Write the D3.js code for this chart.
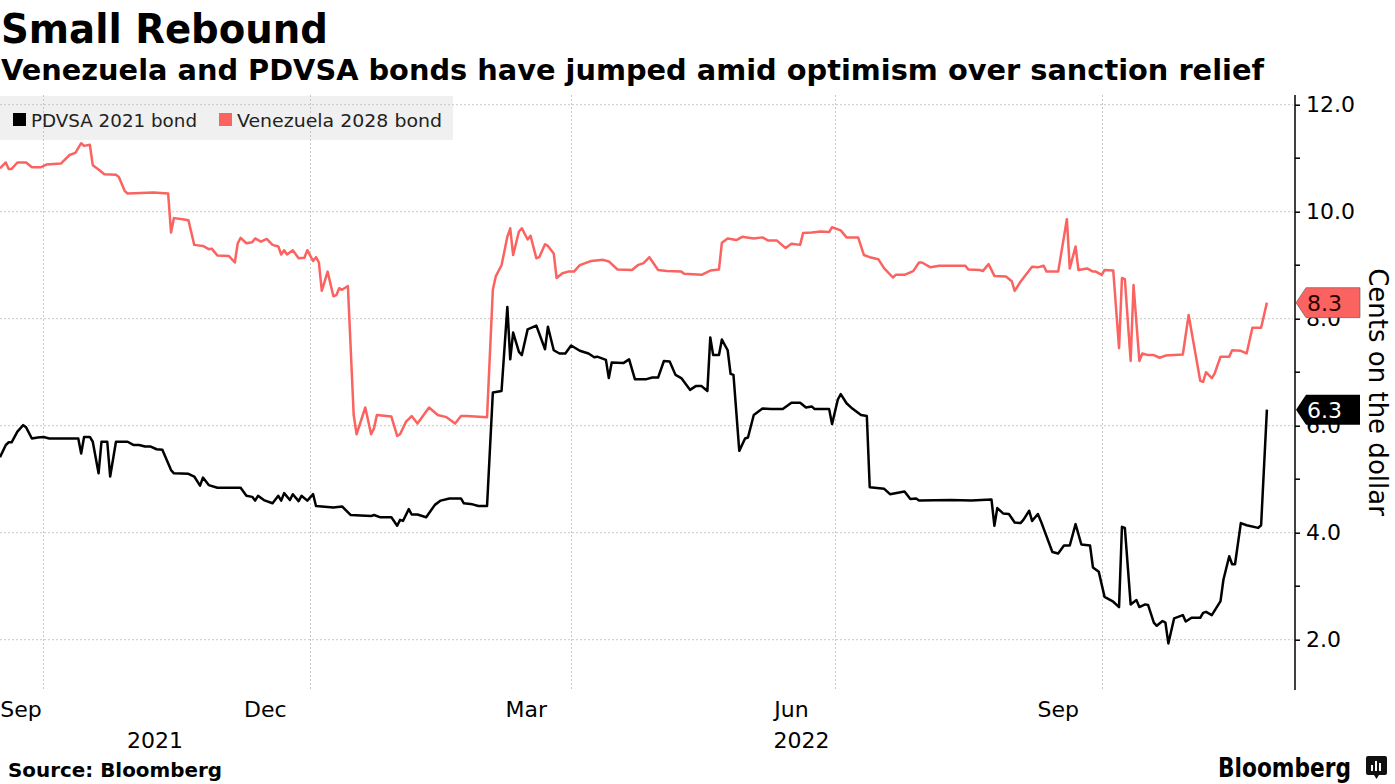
<!DOCTYPE html>
<html>
<head>
<meta charset="utf-8">
<script src="https://cdn.jsdelivr.net/npm/d3@7"></script>
<style>
  html, body { margin: 0; padding: 0; background: #fff; }
  svg { display: block; }
  text { font-family: "DejaVu Sans", sans-serif; }
</style>
</head>
<body>
<svg id="chart" width="1395" height="784"></svg>
<script>
// ---------- DATA ----------
const seriesNames = ["PDVSA 2021 bond", "Venezuela 2028 bond"];
const yTickValues = [2, 4, 6, 8, 10, 12];
const yMinorTickValues = [3, 5, 7, 9, 11];
const monthLabels = ["Sep", "Dec", "Mar", "Jun", "Sep"];
const monthLabelDates = ["2021-09-01", "2021-12-01", "2022-03-01", "2022-06-01", "2022-09-01"];
const gridDates = ["2021-10-01", "2022-01-01", "2022-04-01", "2022-07-01", "2022-10-01"];
const yearLabels = ["2021", "2022"];

const pdvsa2021 = [
["2021-09-16",5.41],["2021-09-18",5.64],["2021-09-19",5.69],["2021-09-20",5.69],["2021-09-22",5.89],["2021-09-24",6.01],
["2021-09-25",5.97],["2021-09-27",5.76],["2021-09-29",5.78],["2021-10-01",5.79],["2021-10-03",5.76],["2021-10-13",5.76],
["2021-10-14",5.48],["2021-10-15",5.79],["2021-10-17",5.79],["2021-10-18",5.70],["2021-10-20",5.11],["2021-10-21",5.70],
["2021-10-23",5.70],["2021-10-24",5.05],["2021-10-26",5.70],["2021-10-30",5.70],["2021-11-01",5.64],["2021-11-03",5.64],
["2021-11-05",5.61],["2021-11-07",5.61],["2021-11-09",5.56],["2021-11-11",5.55],["2021-11-14",5.17],["2021-11-15",5.11],
["2021-11-20",5.10],["2021-11-22",5.05],["2021-11-24",4.88],["2021-11-25",5.03],["2021-11-27",4.89],["2021-11-30",4.84],
["2021-12-08",4.84],["2021-12-10",4.69],["2021-12-12",4.67],["2021-12-13",4.60],["2021-12-14",4.69],["2021-12-16",4.61],
["2021-12-19",4.55],["2021-12-21",4.69],["2021-12-22",4.60],["2021-12-23",4.74],["2021-12-25",4.61],["2021-12-26",4.72],
["2021-12-28",4.59],["2021-12-29",4.69],["2021-12-31",4.60],["2022-01-02",4.72],["2022-01-03",4.50],["2022-01-09",4.47],
["2022-01-12",4.49],["2022-01-15",4.33],["2022-01-22",4.31],["2022-01-23",4.33],["2022-01-25",4.29],["2022-01-29",4.29],
["2022-01-31",4.13],["2022-02-01",4.24],["2022-02-02",4.22],["2022-02-04",4.44],["2022-02-05",4.34],["2022-02-07",4.34],
["2022-02-10",4.29],["2022-02-13",4.52],["2022-02-15",4.60],["2022-02-18",4.64],["2022-02-22",4.64],["2022-02-23",4.55],
["2022-02-26",4.53],["2022-02-28",4.50],["2022-03-03",4.50],["2022-03-05",6.62],["2022-03-08",6.65],["2022-03-10",8.22],
["2022-03-11",7.24],["2022-03-12",7.74],["2022-03-14",7.38],["2022-03-15",7.32],["2022-03-17",7.80],["2022-03-20",7.87],
["2022-03-23",7.43],["2022-03-24",7.85],["2022-03-26",7.41],["2022-03-28",7.35],["2022-03-30",7.35],["2022-04-01",7.50],
["2022-04-04",7.40],["2022-04-07",7.35],["2022-04-09",7.28],["2022-04-10",7.29],["2022-04-13",7.23],["2022-04-14",6.89],
["2022-04-15",7.18],["2022-04-19",7.17],["2022-04-21",7.24],["2022-04-23",6.87],["2022-04-27",6.87],["2022-04-29",6.90],
["2022-05-01",6.90],["2022-05-03",7.21],["2022-05-05",7.20],["2022-05-07",6.95],["2022-05-09",6.89],["2022-05-12",6.67],
["2022-05-14",6.74],["2022-05-16",6.74],["2022-05-18",6.65],["2022-05-19",7.65],["2022-05-20",7.32],["2022-05-22",7.32],
["2022-05-23",7.61],["2022-05-25",7.41],["2022-05-26",6.97],["2022-05-27",6.95],["2022-05-29",5.53],["2022-05-31",5.76],
["2022-06-01",5.78],["2022-06-03",6.20],["2022-06-06",6.32],["2022-06-09",6.31],["2022-06-13",6.31],["2022-06-16",6.43],
["2022-06-19",6.43],["2022-06-21",6.34],["2022-06-23",6.36],["2022-06-24",6.31],["2022-06-29",6.31],["2022-06-30",6.03],
["2022-07-02",6.49],["2022-07-03",6.59],["2022-07-05",6.42],["2022-07-07",6.32],["2022-07-10",6.20],["2022-07-12",6.18],
["2022-07-13",4.85],["2022-07-18",4.82],["2022-07-20",4.72],["2022-07-25",4.77],["2022-07-27",4.63],["2022-07-29",4.64],
["2022-07-30",4.60],["2022-08-10",4.61],["2022-08-17",4.60],["2022-08-24",4.62],["2022-08-25",4.13],["2022-08-26",4.46],
["2022-08-28",4.36],["2022-08-30",4.35],["2022-09-01",4.19],["2022-09-03",4.18],["2022-09-04",4.24],["2022-09-06",4.41],
["2022-09-07",4.22],["2022-09-09",4.35],["2022-09-10",4.22],["2022-09-14",3.64],["2022-09-16",3.61],["2022-09-18",3.76],
["2022-09-20",3.76],["2022-09-22",4.16],["2022-09-24",3.78],["2022-09-27",3.76],["2022-09-28",3.35],["2022-09-30",3.27],
["2022-10-02",2.80],["2022-10-05",2.71],["2022-10-07",2.61],["2022-10-08",4.11],["2022-10-09",4.09],["2022-10-11",2.66],
["2022-10-13",2.74],["2022-10-14",2.61],["2022-10-16",2.66],["2022-10-17",2.65],["2022-10-19",2.32],["2022-10-20",2.26],
["2022-10-22",2.35],["2022-10-23",2.32],["2022-10-24",1.93],["2022-10-26",2.40],["2022-10-29",2.46],["2022-10-30",2.34],
["2022-11-01",2.41],["2022-11-04",2.41],["2022-11-05",2.50],["2022-11-06",2.52],["2022-11-08",2.46],["2022-11-11",2.72],
["2022-11-12",3.12],["2022-11-14",3.56],["2022-11-15",3.41],["2022-11-16",3.41],["2022-11-18",4.18],["2022-11-20",4.14],
["2022-11-24",4.09],["2022-11-25",4.14],["2022-11-27",6.3]
];

const venezuela2028 = [
["2021-09-16",10.81],["2021-09-18",10.92],["2021-09-19",10.80],["2021-09-20",10.80],["2021-09-22",10.92],["2021-09-25",10.92],
["2021-09-27",10.83],["2021-09-30",10.83],["2021-10-02",10.88],["2021-10-07",10.90],["2021-10-10",11.06],["2021-10-12",11.10],
["2021-10-14",11.28],["2021-10-15",11.23],["2021-10-17",11.25],["2021-10-18",10.87],["2021-10-20",10.79],["2021-10-22",10.70],
["2021-10-26",10.69],["2021-10-27",10.65],["2021-10-29",10.39],["2021-10-30",10.34],["2021-11-08",10.36],["2021-11-13",10.34],
["2021-11-14",9.61],["2021-11-15",9.88],["2021-11-18",9.86],["2021-11-20",9.84],["2021-11-22",9.38],["2021-11-25",9.36],
["2021-11-27",9.30],["2021-11-28",9.31],["2021-11-30",9.18],["2021-12-04",9.17],["2021-12-06",9.05],["2021-12-07",9.41],
["2021-12-08",9.51],["2021-12-10",9.41],["2021-12-12",9.43],["2021-12-13",9.50],["2021-12-15",9.44],["2021-12-17",9.49],
["2021-12-19",9.38],["2021-12-21",9.35],["2021-12-22",9.20],["2021-12-23",9.28],["2021-12-24",9.20],["2021-12-26",9.28],
["2021-12-28",9.13],["2021-12-30",9.14],["2021-12-31",9.28],["2022-01-02",9.08],["2022-01-03",9.15],["2022-01-04",9.05],
["2022-01-05",8.52],["2022-01-07",8.88],["2022-01-09",8.42],["2022-01-10",8.44],["2022-01-11",8.57],["2022-01-12",8.54],
["2022-01-14",8.61],["2022-01-16",6.20],["2022-01-17",5.84],["2022-01-20",6.34],["2022-01-22",5.84],["2022-01-23",5.95],
["2022-01-24",6.20],["2022-01-29",6.17],["2022-01-31",5.81],["2022-02-01",5.84],["2022-02-03",6.07],["2022-02-05",6.18],
["2022-02-07",6.04],["2022-02-11",6.34],["2022-02-14",6.20],["2022-02-17",6.16],["2022-02-20",6.04],["2022-02-22",6.18],
["2022-02-24",6.18],["2022-03-03",6.16],["2022-03-05",8.54],["2022-03-06",8.79],["2022-03-08",9.00],["2022-03-10",9.53],
["2022-03-11",9.69],["2022-03-12",9.19],["2022-03-14",9.63],["2022-03-15",9.69],["2022-03-17",9.48],["2022-03-18",9.55],
["2022-03-20",9.13],["2022-03-21",9.15],["2022-03-23",9.39],["2022-03-24",9.36],["2022-03-26",9.22],["2022-03-27",8.76],
["2022-03-29",8.85],["2022-03-31",8.88],["2022-04-02",8.88],["2022-04-04",9.00],["2022-04-08",9.08],["2022-04-12",9.10],
["2022-04-14",9.07],["2022-04-17",8.92],["2022-04-22",8.91],["2022-04-24",9.00],["2022-04-26",9.04],["2022-04-28",9.15],
["2022-05-01",8.91],["2022-05-04",8.89],["2022-05-09",8.88],["2022-05-10",8.84],["2022-05-16",8.82],["2022-05-19",8.90],
["2022-05-22",8.92],["2022-05-23",9.42],["2022-05-25",9.50],["2022-05-28",9.47],["2022-05-30",9.53],["2022-06-03",9.50],
["2022-06-06",9.52],["2022-06-08",9.46],["2022-06-11",9.46],["2022-06-14",9.32],["2022-06-16",9.40],["2022-06-19",9.38],
["2022-06-20",9.60],["2022-06-23",9.61],["2022-06-26",9.63],["2022-06-29",9.62],["2022-06-30",9.71],["2022-07-03",9.65],
["2022-07-05",9.52],["2022-07-09",9.52],["2022-07-11",9.19],["2022-07-13",9.15],["2022-07-16",9.11],["2022-07-18",8.94],
["2022-07-21",8.77],["2022-07-22",8.82],["2022-07-25",8.82],["2022-07-28",8.89],["2022-07-30",9.05],["2022-07-31",9.05],
["2022-08-03",8.96],["2022-08-06",8.99],["2022-08-15",8.99],["2022-08-16",8.92],["2022-08-20",8.91],["2022-08-21",8.89],
["2022-08-23",9.02],["2022-08-25",8.80],["2022-08-29",8.79],["2022-08-31",8.70],["2022-09-01",8.52],["2022-09-03",8.69],
["2022-09-07",8.97],["2022-09-09",8.96],["2022-09-11",8.99],["2022-09-12",8.88],["2022-09-16",8.88],["2022-09-19",9.86],
["2022-09-20",8.94],["2022-09-22",9.35],["2022-09-23",8.91],["2022-09-26",8.94],["2022-09-28",8.88],["2022-09-29",8.88],
["2022-10-01",8.82],["2022-10-02",8.91],["2022-10-05",8.90],["2022-10-07",7.45],["2022-10-08",8.76],["2022-10-09",8.74],
["2022-10-11",7.21],["2022-10-12",8.63],["2022-10-14",7.21],["2022-10-15",7.35],["2022-10-17",7.32],["2022-10-19",7.32],
["2022-10-21",7.27],["2022-10-23",7.31],["2022-10-29",7.33],["2022-10-31",8.07],["2022-11-04",6.84],["2022-11-05",6.82],
["2022-11-06",7.00],["2022-11-08",6.89],["2022-11-09",6.98],["2022-11-11",7.29],["2022-11-14",7.29],["2022-11-15",7.41],
["2022-11-18",7.40],["2022-11-20",7.35],["2022-11-22",7.83],["2022-11-25",7.83],["2022-11-27",8.3]
];

// ---------- SETUP ----------
const parse = d3.timeParse("%Y-%m-%d");
const colors = { pdvsa: "#000000", ven: "#fa6360" };
const svg = d3.select("#chart");

const plotLeft = 0, plotRight = 1293, plotTop = 95, plotBottom = 690, axisX = 1295;

const x = d3.scaleTime()
  .domain([parse("2021-09-16"), parse("2022-12-06")])
  .range([plotLeft, plotRight]);
const y = d3.scaleLinear().domain([2, 12]).range([639.7, 104.7]);

// Title & subtitle
svg.append("text").attr("x", 1).attr("y", 43)
  .attr("font-size", 41).attr("font-weight", "bold")
  .attr("textLength", 327).attr("lengthAdjust", "spacingAndGlyphs")
  .text("Small Rebound");
svg.append("text").attr("x", 1).attr("y", 80)
  .attr("font-size", 29).attr("font-weight", "bold")
  .attr("textLength", 1263).attr("lengthAdjust", "spacingAndGlyphs")
  .text("Venezuela and PDVSA bonds have jumped amid optimism over sanction relief");

// Legend box (under gridlines)
svg.append("rect").attr("x", 0).attr("y", 96).attr("width", 453).attr("height", 44)
  .attr("fill", "#f0f0f0");

// Horizontal gridlines
svg.append("g").selectAll("line").data(yTickValues).join("line")
  .attr("x1", plotLeft).attr("x2", plotRight)
  .attr("y1", d => y(d)).attr("y2", d => y(d))
  .attr("stroke", "#c8c8c8").attr("stroke-width", 1).attr("stroke-dasharray", "2,2");

// Vertical gridlines
svg.append("g").selectAll("line").data(gridDates.map(parse)).join("line")
  .attr("x1", d => Math.round(x(d)) + 0.5).attr("x2", d => Math.round(x(d)) + 0.5)
  .attr("y1", plotTop).attr("y2", plotBottom)
  .attr("stroke", "#c8c8c8").attr("stroke-width", 1).attr("stroke-dasharray", "2,2");

// Legend items
const legend = svg.append("g");
legend.append("rect").attr("x", 13).attr("y", 113).attr("width", 13).attr("height", 13).attr("fill", colors.pdvsa);
legend.append("text").attr("x", 31).attr("y", 127).attr("font-size", 18).attr("fill", "#222")
  .attr("textLength", 166).attr("lengthAdjust", "spacingAndGlyphs").text(seriesNames[0]);
legend.append("rect").attr("x", 219).attr("y", 113).attr("width", 13).attr("height", 13).attr("fill", colors.ven);
legend.append("text").attr("x", 237).attr("y", 127).attr("font-size", 18).attr("fill", "#222")
  .attr("textLength", 205).attr("lengthAdjust", "spacingAndGlyphs").text(seriesNames[1]);

// Lines
const line = d3.line().x(d => x(parse(d[0]))).y(d => y(d[1])).curve(d3.curveLinear);
svg.append("path").datum(venezuela2028).attr("d", line)
  .attr("fill", "none").attr("stroke", colors.ven).attr("stroke-width", 2.5).attr("stroke-linejoin", "round");
svg.append("path").datum(pdvsa2021).attr("d", line)
  .attr("fill", "none").attr("stroke", colors.pdvsa).attr("stroke-width", 2.5).attr("stroke-linejoin", "round");

// Right axis
const yAxis = d3.axisRight(y).tickValues(yTickValues).tickSize(5).tickPadding(6)
  .tickFormat(d3.format(".1f"));
const axG = svg.append("g").attr("transform", `translate(${axisX},0)`).call(yAxis);
axG.select(".domain").remove();
axG.selectAll("text").attr("font-size", 22).attr("font-family", "DejaVu Sans").attr("fill", "#000");
axG.selectAll("line").attr("stroke", "#000").attr("stroke-width", 1.5);
svg.append("line").attr("x1", axisX).attr("x2", axisX).attr("y1", plotTop).attr("y2", plotBottom)
  .attr("stroke", "#000").attr("stroke-width", 1.5);
svg.append("g").selectAll("line").data(yMinorTickValues).join("line")
  .attr("x1", axisX).attr("x2", axisX + 5).attr("y1", d => y(d)).attr("y2", d => y(d))
  .attr("stroke", "#000").attr("stroke-width", 1.5);

// Axis title
svg.append("text")
  .attr("transform", `translate(1369,392) rotate(90)`)
  .attr("text-anchor", "middle").attr("font-size", 26)
  .text("Cents on the dollar");

// End value labels
function endLabel(series, fill, textFill) {
  const last = series[series.length - 1];
  const yc = y(last[1]);
  const g = svg.append("g");
  g.append("path")
    .attr("d", `M${axisX + 1},${yc} L${axisX + 11},${yc - 15} L1360,${yc - 15} L1360,${yc + 15} L${axisX + 11},${yc + 15} Z`)
    .attr("fill", fill).attr("stroke", textFill === "#fff" ? "none" : "#555").attr("stroke-width", 0.6);
  g.append("text").attr("x", 1307).attr("y", yc + 8).attr("font-size", 22).attr("fill", textFill)
    .text(d3.format(".1f")(last[1]));
}
endLabel(venezuela2028, colors.ven, "#2a0000");
endLabel(pdvsa2021, colors.pdvsa, "#fff");

// X axis labels: month centered, years centered on visible year span
const xLab = svg.append("g");
monthLabelDates.forEach((ds, i) => {
  const s = parse(ds);
  const e = d3.timeMonth.offset(s, 1);
  let cx = (x(s) + x(e)) / 2;
  cx = Math.max(cx, 21);
  xLab.append("text").attr("x", cx).attr("y", 717).attr("text-anchor", "middle")
    .attr("font-size", 22).text(monthLabels[i]);
});
yearLabels.forEach(yr => {
  const s = d3.max([parse(yr + "-01-01"), x.domain()[0]]);
  const e = d3.min([parse((+yr + 1) + "-01-01"), x.domain()[1]]);
  const cx = (x(s) + x(e)) / 2;
  xLab.append("text").attr("x", cx).attr("y", 748).attr("text-anchor", "middle")
    .attr("font-size", 22).text(yr);
});

// Source
svg.append("text").attr("x", 8).attr("y", 777).attr("font-size", 19).attr("font-weight", "bold")
  .attr("textLength", 214).attr("lengthAdjust", "spacingAndGlyphs").text("Source: Bloomberg");

// Bloomberg logo
svg.append("text").attr("x", 1218).attr("y", 777).attr("font-size", 27).attr("font-weight", "bold")
  .attr("font-family", "Inter, 'DejaVu Sans', sans-serif")
  .attr("textLength", 133).attr("lengthAdjust", "spacingAndGlyphs").text("Bloomberg");
const logo = svg.append("g").attr("transform", "translate(1366,756)");
logo.append("path").attr("d", "M2,0 H19 Q21,0 21,2 V17 Q21,19 19,19 H13 L10.5,23 L8,19 H2 Q0,19 0,17 V2 Q0,0 2,0 Z").attr("fill", "#111");
[[5,9,2,6],[9,5,2,10],[13,7,2,8]].forEach(b => logo.append("rect").attr("x", b[0]).attr("y", b[1]).attr("width", b[2]).attr("height", b[3]).attr("fill", "#fff"));
</script>
</body>
</html>
